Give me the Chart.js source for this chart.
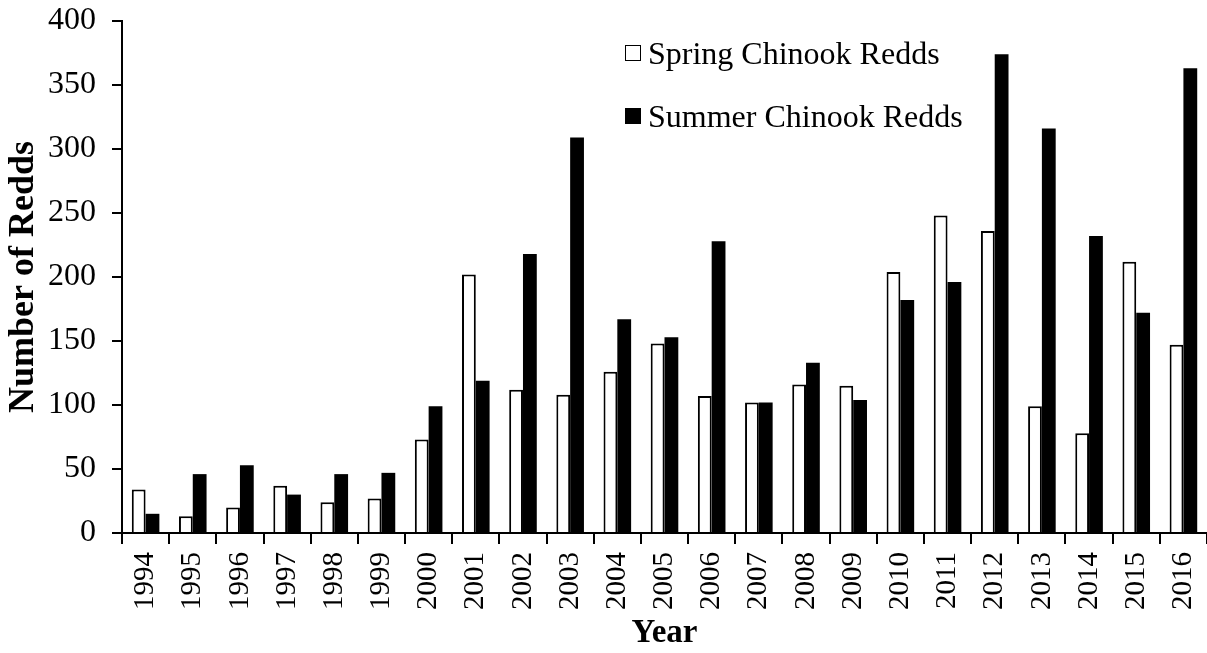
<!DOCTYPE html>
<html>
<head>
<meta charset="utf-8">
<script src="https://cdn.jsdelivr.net/npm/chart.js@4.4.0/dist/chart.umd.min.js"></script>
<style>
  html, body { margin: 0; padding: 0; background: #fff; }
  #wrap { position: relative; width: 1207px; height: 653px; }
  #legend { position: absolute; left: 625px; top: 33px; font-family: 'Liberation Serif', 'Times New Roman', serif; font-size: 32px; color: #000; }
  .item { display: flex; align-items: center; height: 40px; margin-bottom: 23px; white-space: nowrap; }
  .box { width: 16px; height: 16px; border: 1.5px solid #000; margin-right: 7px; box-sizing: border-box; }
</style>
</head>
<body>
<div id="wrap">
  <canvas id="chart" width="1207" height="653"></canvas>
  <div id="legend"></div>
</div>
<script>
const years = ['1994', '1995', '1996', '1997', '1998', '1999', '2000', '2001', '2002', '2003', '2004', '2005',
               '2006', '2007', '2008', '2009', '2010', '2011', '2012', '2013', '2014', '2015', '2016'];
const springRedds = [34, 13, 20, 37, 24, 27, 73, 202, 112, 108, 126, 148, 107, 102, 116, 115, 204, 248, 236, 99, 78, 212, 147];
const summerRedds = [15, 46, 53, 30, 46, 47, 99, 119, 218, 309, 167, 153, 228, 102, 133, 104, 182, 196, 374, 316, 232, 172, 363];
const seriesNames = ['Spring Chinook Redds', 'Summer Chinook Redds'];
const yTicks = [0, 50, 100, 150, 200, 250, 300, 350, 400];

const serif = "'Liberation Serif', 'Times New Roman', serif";

// legend as html text, placed inside the plot like the original
const legend = document.getElementById('legend');
seriesNames.forEach((name, i) => {
    const row = document.createElement('div');
    row.className = 'item';
    const box = document.createElement('span');
    box.className = 'box';
    box.style.background = i === 0 ? '#fff' : '#000';
    const label = document.createElement('span');
    label.textContent = name;
    row.appendChild(box);
    row.appendChild(label);
    legend.appendChild(row);
});

const ctx = document.getElementById('chart').getContext('2d');
new Chart(ctx, {
    type: 'bar',
    data: {
        labels: years,
        datasets: [{
            label: seriesNames[0],
            data: springRedds,
            backgroundColor: '#fff',
            borderColor: '#000',
            borderWidth: 2,
            borderSkipped: 'start',
            categoryPercentage: 0.585,
            barPercentage: 1
        }, {
            label: seriesNames[1],
            data: summerRedds,
            backgroundColor: '#000',
            borderColor: '#000',
            borderWidth: 0,
            categoryPercentage: 0.585,
            barPercentage: 1
        }]
    },
    options: {
        responsive: false,
        animation: false,
        layout: { padding: { top: 21, right: 0, left: 0, bottom: 0 } },
        plugins: { legend: { display: false }, tooltip: { enabled: false } },
        scales: {
            x: {
                grid: { display: true, drawOnChartArea: false, drawTicks: true, tickLength: 11, color: '#000', lineWidth: 2 },
                border: { display: true, color: '#000', width: 2 },
                ticks: { color: '#000', font: { family: serif, size: 29 }, minRotation: 90, maxRotation: 90, padding: 8, autoSkip: false },
                title: { display: true, text: 'Year', color: '#000', font: { family: serif, size: 33, weight: 'bold' }, padding: { top: 0, bottom: 0 } },
                afterFit: (axis) => {
                    axis.height = 120;
                    axis.paddingLeft = 0;
                    axis.paddingRight = 0;
                }
            },
            y: {
                min: 0,
                max: 400,
                afterBuildTicks: (axis) => { axis.ticks = yTicks.map(v => ({ value: v })); },
                grid: { display: true, drawOnChartArea: false, drawTicks: true, tickLength: 10, color: '#000', lineWidth: 2 },
                border: { display: true, color: '#000', width: 2 },
                ticks: { color: '#000', font: { family: serif, size: 32 }, padding: 16 },
                title: { display: true, text: 'Number of Redds', color: '#000', font: { family: serif, size: 36, weight: 'bold' }, padding: { top: 2, bottom: 0 } },
                afterFit: (axis) => {
                    axis.width = 122;
                    axis.paddingTop = 0;
                    axis.paddingBottom = 0;
                }
            }
        }
    }
});
</script>
</body>
</html>
